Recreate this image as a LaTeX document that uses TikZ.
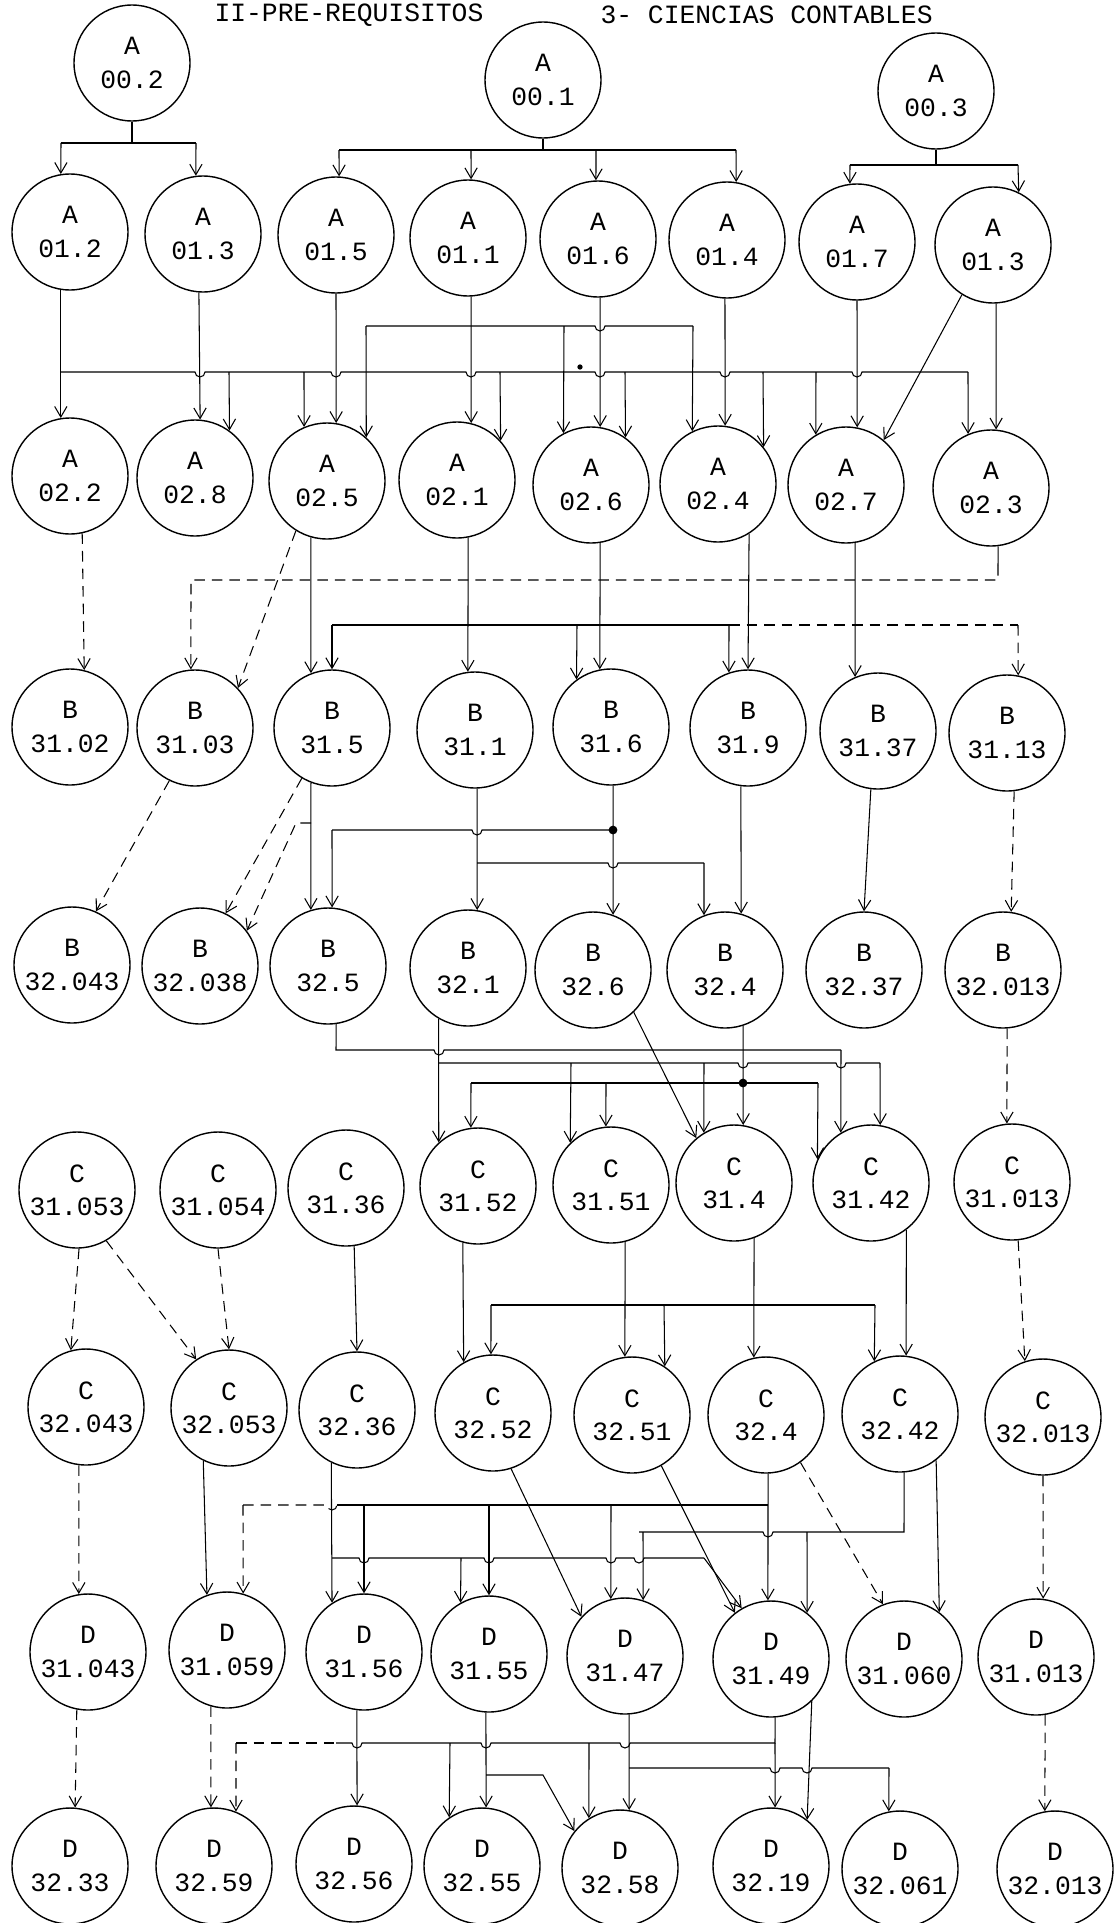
\documentclass[tikz,border=0pt]{standalone}
\usepackage{fontspec}
\newfontfamily\typew{Liberation Mono}
\usetikzlibrary{arrows.meta}
\newcommand{\hop}{arc[start angle=180,end angle=360,radius=0.1cm]}
\tikzset{
  crs/.style={circle, draw, line width=0.8pt, minimum size=2.32cm, inner sep=0pt,
    align=center, font=\typew\fontsize{15}{19}\selectfont},
  ttl/.style={anchor=west, inner sep=0pt, font=\typew\fontsize{15}{19}\selectfont},
  dsh/.style={dash pattern=on 6pt off 4pt},
}
\begin{document}
\begin{tikzpicture}[x=0.02cm, y=-0.02cm, line width=0.6pt,
    >={Straight Barb[length=6pt,width=7pt]}]
\useasboundingbox (0,0) rectangle (1119,1923);

\node[ttl] (tit1) at (214,15) {II-PRE-REQUISITOS};
\node[ttl] (tit2) at (600,15) {3- CIENCIAS CONTABLES};

% A 00
\node[crs] (A002) at (132,63) {A\\00.2};
\node[crs] (A001) at (543,80) {A\\00.1};
\node[crs] (A003) at (936,91) {A\\00.3};

% A 01
\node[crs] (A012) at (70,232) {A\\01.2};
\node[crs] (A013) at (203,234) {A\\01.3};
\node[crs] (A015) at (336,235) {A\\01.5};
\node[crs] (A011) at (468,238) {A\\01.1};
\node[crs] (A016) at (598,239) {A\\01.6};
\node[crs] (A014) at (727,240) {A\\01.4};
\node[crs] (A017) at (857,242) {A\\01.7};
\node[crs] (A013b) at (993,245) {A\\01.3};

% A 02
\node[crs] (A022) at (70,476) {A\\02.2};
\node[crs] (A028) at (195,478) {A\\02.8};
\node[crs] (A025) at (327,481) {A\\02.5};
\node[crs] (A021) at (457,480) {A\\02.1};
\node[crs] (A026) at (591,485) {A\\02.6};
\node[crs] (A024) at (718,484) {A\\02.4};
\node[crs] (A027) at (846,485) {A\\02.7};
\node[crs] (A023) at (991,488) {A\\02.3};

% B 31
\node[crs] (B3102) at (70,727) {B\\31.02};
\node[crs] (B3103) at (195,728) {B\\31.03};
\node[crs] (B315) at (332,728) {B\\31.5};
\node[crs] (B311) at (475,730) {B\\31.1};
\node[crs] (B316) at (611,727) {B\\31.6};
\node[crs] (B319) at (748,728) {B\\31.9};
\node[crs] (B3137) at (878,731) {B\\31.37};
\node[crs] (B3113) at (1007,733) {B\\31.13};

% B 32
\node[crs] (B32043) at (72,965) {B\\32.043};
\node[crs] (B32038) at (200,966) {B\\32.038};
\node[crs] (B325) at (328,966) {B\\32.5};
\node[crs] (B321) at (468,968) {B\\32.1};
\node[crs] (B326) at (593,970) {B\\32.6};
\node[crs] (B324) at (725,970) {B\\32.4};
\node[crs] (B3237) at (864,970) {B\\32.37};
\node[crs] (B32013) at (1003,970) {B\\32.013};

% C 31
\node[crs] (C31053) at (77,1190) {C\\31.053};
\node[crs] (C31054) at (218,1190) {C\\31.054};
\node[crs] (C3136) at (346,1188) {C\\31.36};
\node[crs] (C3152) at (478,1186) {C\\31.52};
\node[crs] (C3151) at (611,1185) {C\\31.51};
\node[crs] (C314) at (734,1183) {C\\31.4};
\node[crs] (C3142) at (871,1183) {C\\31.42};
\node[crs] (C31013) at (1012,1182) {C\\31.013};

% C 32
\node[crs] (C32043) at (86,1407) {C\\32.043};
\node[crs] (C32053) at (229,1408) {C\\32.053};
\node[crs] (C3236) at (357,1410) {C\\32.36};
\node[crs] (C3252) at (493,1413) {C\\32.52};
\node[crs] (C3251) at (632,1415) {C\\32.51};
\node[crs] (C324) at (766,1415) {C\\32.4};
\node[crs] (C3242) at (900,1414) {C\\32.42};
\node[crs] (C32013) at (1043,1417) {C\\32.013};

% D 31
\node[crs] (D31043) at (88,1652) {D\\31.043};
\node[crs] (D31059) at (227,1650) {D\\31.059};
\node[crs] (D3156) at (364,1652) {D\\31.56};
\node[crs] (D3155) at (489,1654) {D\\31.55};
\node[crs] (D3147) at (625,1656) {D\\31.47};
\node[crs] (D3149) at (771,1659) {D\\31.49};
\node[crs] (D31060) at (904,1659) {D\\31.060};
\node[crs] (D31013) at (1036,1657) {D\\31.013};

% D 32
\node[crs] (D3233) at (70,1866) {D\\32.33};
\node[crs] (D3259) at (214,1866) {D\\32.59};
\node[crs] (D3256) at (354,1864) {D\\32.56};
\node[crs] (D3255) at (482,1866) {D\\32.55};
\node[crs] (D3258) at (620,1868) {D\\32.58};
\node[crs] (D3219) at (771,1866) {D\\32.19};
\node[crs] (D32061) at (900,1869) {D\\32.061};
\node[crs] (D32013) at (1055,1869) {D\\32.013};

% 00 -> 01
\draw (A002.south) -- (132,143);
\draw (61,143) -- (196,143);
\path[->] (61,143) edge (A012.99)
          (196,143) edge (A013.97);
\draw (A001.south) -- (543,150);
\draw (339,150) -- (736,150);
\path[->] (339,150) edge (A015.87)
          (471,150) edge (A011.87)
          (596,150) edge (A016.92)
          (736,150) edge (A014.81);
\draw (A003.south) -- (936,165);
\draw (850,165) -- (1018,165);
\path[->] (850,165) edge (A017.97)
          (1018,165) edge (A013b.64);

% 01 -> 02
\path[->]
  (A012.261) edge (A022.99)
  (A013.266) edge (A028.85)
  (A015.south) edge (A025.81)
  (A011.273) edge (A021.76)
  (A016.272) edge (A026.81)
  (A014.268) edge (A024.83)
  (A017.south) edge (A027.79)
  (A013b.273) edge (A023.85)
  (A013b.238) edge (A027.50);
\draw (61,372) -- (195,372) \hop -- (331,372) \hop -- (466,372) \hop
  -- (595,372) \hop -- (720,372) \hop -- (852,372) \hop -- (968,372);
\fill (580,367) circle[radius=1.5pt];
\path[->]
  (229,372) edge (A028.54)
  (304,372) edge (A025.113)
  (500,372) edge (A021.42)
  (625,372) edge (A026.54)
  (763,372) edge (A024.39)
  (816,372) edge (A027.121)
  (968,372) edge (A023.113);
\draw (366,326) -- (595,326) \hop -- (693,326);
\path[->]
  (366,326) edge (A025.48)
  (564,326) edge (A026.118)
  (693,326) edge (A024.116);

% 02 -> B31
\draw[->,dsh] (A022.282) -- (B3102.76);
\draw[->,dsh] (A025.238) -- (B3103.43);
\draw[->] (A025.254) -- (B315.111);
\draw (A023.277) -- (998,565);
\draw[->,dsh] (998,565) -- (998,580) -- (191,580) -- (B3103.94);
\draw[->] (A021.281) -- (B311.97);
\draw (332,625) -- (729,625);
\draw[dsh] (729,625) -- (1018,625);
\path[->]
  (332,625) edge (B315.north)
  (577,625) edge (B316.126)
  (729,625) edge (B319.109);
\draw[->,dsh] (1018,625) -- (B3113.79);
\draw[->] (A026.279) -- (B316.101);
\draw[->] (A024.302) -- (B319.north);
\draw[->] (A027.279) -- (B3137.113);

% B31 -> B32
\draw[->,dsh] (B3103.244) -- (B32043.66);
\draw[->,dsh] (B315.239) -- (B32038.64);
\draw[->,dsh] (311,823) -- (296,823) -- (B32038.37);
\draw[->] (B315.249) -- (B325.107);
\draw (332,830) -- (472,830) \hop -- (613,830);
\fill (613,830) circle[radius=2.5pt];
\draw[->] (332,830) -- (B325.86);
\draw[->] (B311.272) -- (B321.81);
\draw (477,863) -- (608,863) \hop -- (704,863);
\draw[->] (704,863) -- (B324.111);
\draw[->] (B316.272) -- (B326.70);
\draw[->] (B319.263) -- (B324.74);
\draw[->] (B3137.263) -- (B3237.north);
\draw[->,dsh] (B3113.277) -- (B32013.82);

% B32 -> C31
\draw (B325.278) -- (336,1050) -- (434,1050) \hop -- (841,1050);
\draw[->] (841,1050) -- (C3142.121);
\draw[->] (B321.240) -- (C3152.132);
\draw (439,1063) -- (738,1063) \hop -- (836,1063) \hop -- (880,1063);
\path[->]
  (571,1063) edge (C3151.134)
  (704,1063) edge (C314.121)
  (880,1063) edge (C3142.81);
\draw (471,1083) -- (818,1083);
\fill (743,1083) circle[radius=2.5pt];
\path[->]
  (471,1083) edge (C3152.97)
  (606,1083) edge (C3151.95)
  (818,1083) edge (C3142.156);
\draw[->] (B324.288) -- (C314.81);
\draw[->] (B326.314) -- (C314.130);
\draw[->,dsh] (B32013.274) -- (C31013.95);

% C31 -> C32
\draw[->,dsh] (C31053.272) -- (C32043.105);
\draw[->,dsh] (C31053.300) -- (C32053.124);
\draw[->,dsh] (C31054.south) -- (C32053.north);
\draw[->] (C3136.278) -- (C3236.north);
\draw[->] (C3152.255) -- (C3252.120);
\draw (491,1305) -- (875,1305);
\path[->]
  (491,1305) edge (C3252.92)
  (664,1305) edge (C3251.56)
  (875,1305) edge (C3242.116);
\draw[->] (C3151.284) -- (C3251.97);
\draw[->] (C314.290) -- (C324.102);
\draw[->] (C3142.307) -- (C3242.84);
\draw[->,dsh] (C31013.276) -- (C32013.108);

% C32 -> D31
\draw[->,dsh] (C32043.263) -- (D31043.99);
\draw[->] (C32053.244) -- (D31059.110);
\draw[dsh] (243,1505) -- (327,1505) \hop;
\draw (337,1505) -- (768,1505);
\draw[->,dsh] (243,1505) -- (D31059.74);
\path[->]
  (364,1505) edge (D3156.north)
  (489,1505) edge (D3155.north)
  (611,1505) edge (D3147.104);
\draw[->] (C324.272) -- (D3149.93);
\draw[->] (C3236.244) -- (D3156.123);
\draw (332,1558) -- (359,1558) \hop -- (484,1558) \hop -- (606,1558) \hop
  -- (634,1558) \hop -- (704,1558);
\draw[->] (461,1558) -- (D3155.119);
\draw[->] (704,1558) -- (D3149.120);
\draw[->] (C3252.288) -- (D3147.138);
\draw[->] (C3251.300) -- (D3149.128);
\draw (639,1532) -- (763,1532) \hop -- (904,1532) -- (C3242.274);
\path[->]
  (643,1532) edge (D3147.72)
  (807,1532) edge (D3149.52);
\draw[->,dsh] (C324.306) -- (D31060.111);
\draw[->] (C3242.308) -- (D31060.53);
\draw[->,dsh] (C32013.south) -- (D31013.83);

% D31 -> D32
\draw[->,dsh] (D31043.259) -- (D3233.85);
\draw[->,dsh] (D31059.254) -- (D3259.93);
\draw[dsh] (236,1743) -- (336,1743);
\draw (336,1743) -- (352,1743) \hop -- (481,1743) \hop -- (620,1743) \hop
  -- (775,1743) -- (D3149.274);
\draw[->,dsh] (236,1743) -- (D3259.68);
\path[->]
  (450,1743) edge (D3255.124)
  (589,1743) edge (D3258.122)
  (775,1743) edge (D3219.86);
\draw[->] (D3156.263) -- (D3256.87);
\draw[->] (D3155.267) -- (D3255.86);
\draw[->] (486,1775) -- (543,1775) -- (D3258.141);
\draw[->] (D3147.274) -- (D3258.81);
\draw (629,1768) -- (770,1768) \hop -- (802,1768) \hop -- (889,1768);
\draw[->] (889,1768) -- (D32061.101);
\draw[->] (D3149.314) -- (D3219.52);
\draw[->,dsh] (D31013.279) -- (D32013.100);
\end{tikzpicture}
\end{document}
